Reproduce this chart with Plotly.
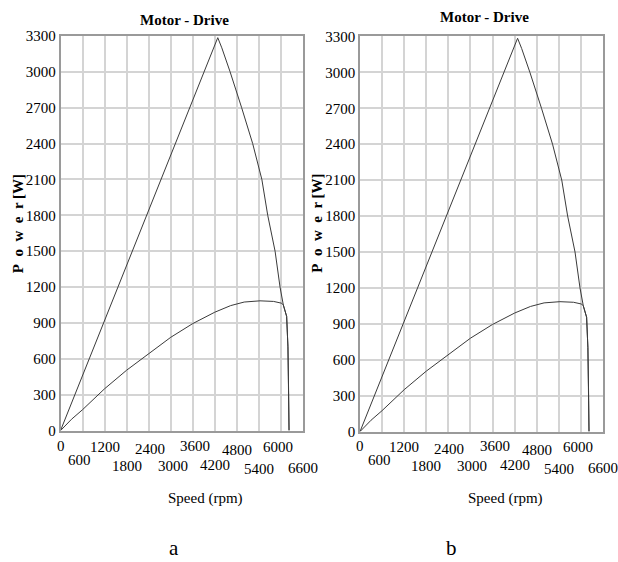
import plotly.graph_objects as go

# Motor-drive power curves (speed in rpm, power in W)
speed_peak = [0, 1200, 2400, 3600, 4280, 4390, 4615, 4930, 5230, 5480,
              5640, 5840, 5975, 6065, 6155, 6190, 6210, 6220]
power_peak = [0, 925, 1850, 2770, 3285, 3200, 3000, 2700, 2400, 2100,
              1800, 1500, 1200, 1050, 955, 700, 300, 0]

speed_cont = [0, 300, 600, 1200, 1800, 2400, 3000, 3600, 4200, 4630, 5000,
              5430, 5800, 6020, 6065, 6155, 6190, 6210, 6220]
power_cont = [0, 95, 175, 350, 505, 645, 780, 895, 990, 1045, 1075,
              1085, 1080, 1065, 1050, 955, 700, 300, 0]

x_ticks = [0, 600, 1200, 1800, 2400, 3000, 3600, 4200, 4800, 5400, 6000, 6600]
y_ticks = [0, 300, 600, 900, 1200, 1500, 1800, 2100, 2400, 2700, 3000, 3300]
panel_titles = ["Motor - Drive", "Motor - Drive"]
panel_letters = ["a", "b"]

SERIF = "Liberation Serif"
INK = "#000000"
W, H = 618, 562

# staggered speed labels: vertical position (px) and small horizontal nudge
tick_row_px = [450.5, 465, 451.5, 471, 453.5, 471, 450.5, 470, 454.5, 475, 451.5, 473]
tick_nudge_px = [0, -3, 0, 0, 1, 2, 2, 0, 0, 0, -3, 0]


def px_x(p):
    return p / W


def px_y(p):
    return 1 - p / H


# per-panel layout in pixels
panels = [
    dict(l=60.5, r=303, t=28.7, b=435, title_y=12.5, letter_dx=113),
    dict(l=360, r=603, t=29.3, b=436, title_y=8.8, letter_dx=91),
]

fig = go.Figure()
annotations = []

for i, p in enumerate(panels):
    key = "" if i == 0 else "2"
    for sx, sy in ((speed_peak, power_peak), (speed_cont, power_cont)):
        fig.add_trace(go.Scatter(
            x=sx, y=sy, xaxis="x" + key, yaxis="y" + key, mode="lines",
            line=dict(color="#3a3a3a", width=1), showlegend=False,
            hoverinfo="skip"))

    axis_common = dict(
        showgrid=True, gridcolor="#d4d4d4", gridwidth=1.6,
        showline=True, linecolor="#9a9a9a", linewidth=1.5, mirror=True,
        zeroline=False, ticks="", fixedrange=True,
    )
    fig.update_layout(**{
        "xaxis" + key: dict(
            axis_common, domain=[px_x(p["l"]), px_x(p["r"])], range=[0, 6600],
            tickvals=x_ticks, showticklabels=False, anchor="y" + key),
        "yaxis" + key: dict(
            axis_common, domain=[px_y(p["b"]), px_y(p["t"])], range=[0, 3300],
            tickvals=y_ticks, ticktext=[str(v) for v in y_ticks],
            tickfont=dict(family=SERIF, size=15, color=INK),
            anchor="x" + key),
    })

    # staggered speed tick labels
    for k, v in enumerate(x_ticks):
        annotations.append(dict(
            x=v, y=px_y(tick_row_px[k]), xref="x" + key, yref="paper",
            xshift=tick_nudge_px[k],
            text=str(v), showarrow=False, xanchor="center", yanchor="middle",
            font=dict(family=SERIF, size=15, color=INK)))

    # panel title
    annotations.append(dict(
        x=px_x(p["l"] + 124), y=px_y(p["title_y"]), xref="paper", yref="paper",
        text="<b>" + panel_titles[i] + "</b>", showarrow=False,
        xanchor="center", yanchor="middle",
        font=dict(family=SERIF, size=15, color=INK)))
    # power axis title
    annotations.append(dict(
        x=px_x(p["l"] - 43), y=px_y(222), xref="paper", yref="paper",
        text="<b>P\u2002o\u2002w\u2002e\u2002r [W]</b>", showarrow=False,
        textangle=-90, xanchor="center", yanchor="middle",
        font=dict(family=SERIF, size=15, color=INK)))
    # speed axis title
    annotations.append(dict(
        x=px_x(p["l"] + 145), y=px_y(505), xref="paper", yref="paper",
        text="Speed (rpm)", showarrow=False, xanchor="center",
        yanchor="middle", font=dict(family=SERIF, size=15, color=INK)))
    # panel letter
    annotations.append(dict(
        x=px_x(p["l"] + p["letter_dx"]), y=px_y(556), xref="paper",
        yref="paper", text=panel_letters[i], showarrow=False,
        xanchor="center", yanchor="middle",
        font=dict(family=SERIF, size=21, color=INK)))

fig.update_layout(
    width=W, height=H, margin=dict(l=0, r=0, t=0, b=0),
    paper_bgcolor="white", plot_bgcolor="white",
    annotations=annotations,
)

fig.write_html("out.html", config={"displayModeBar": False})
